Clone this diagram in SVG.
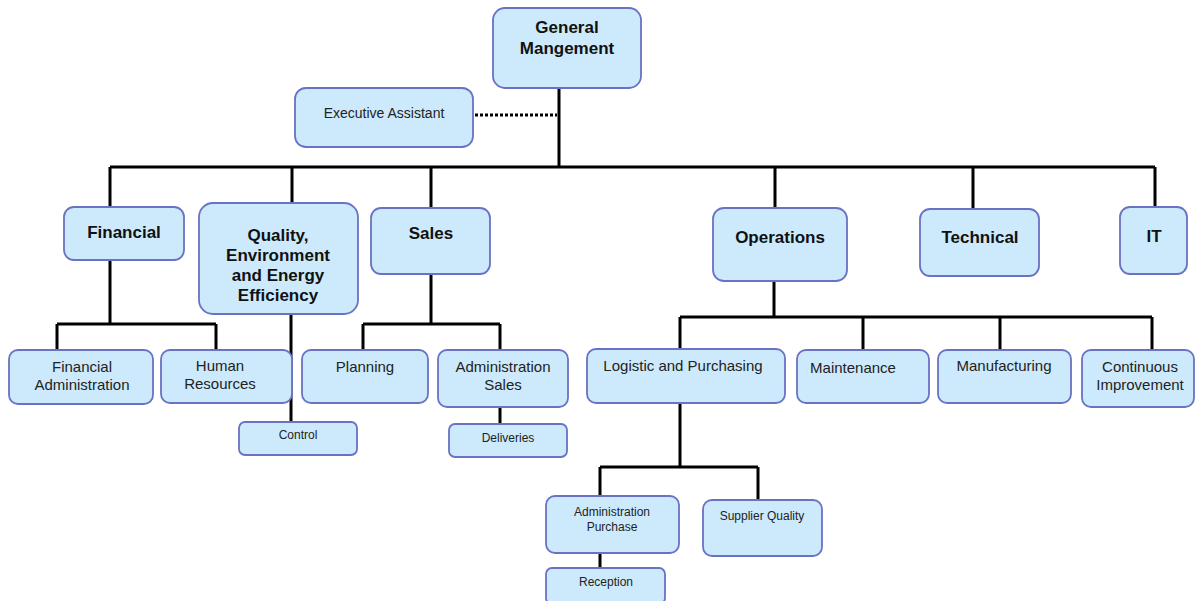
<svg xmlns="http://www.w3.org/2000/svg" width="1198" height="601" viewBox="0 0 1198 601">
<style>
.box{fill:#cdeafc;stroke:#6a72c4;stroke-width:1.8}
.b{font-family:"Liberation Sans",Arial,sans-serif;font-weight:bold;font-size:17px;fill:#111;text-anchor:middle}
.r{font-family:"Liberation Sans",Arial,sans-serif;font-size:15px;fill:#222;text-anchor:middle}
.s{font-family:"Liberation Sans",Arial,sans-serif;font-size:12px;fill:#222;text-anchor:middle}
.ln{fill:none;stroke:#000;stroke-width:3}
</style>
<rect width="1198" height="601" fill="#fff"/>
<g id="connectors">
<path class="ln" d="M559 88V167M110 167H1155M110 167V208M292 167V204M431 167V209M775 167V209M973 167V210M1155 167V208"/>
<path d="M475 115H557" fill="none" stroke="#000" stroke-width="3" stroke-dasharray="3 2"/>
<path class="ln" d="M110 260V324M57 324H216M57 324V351M216 324V351"/>
<path class="ln" d="M291 314V423"/>
<path class="ln" d="M431 274V324M363 324H500M363 324V351M500 324V351M500 407V425"/>
<path class="ln" d="M774 281V317M680 317H1152M680 317V350M863 317V351M1000 317V351M1152 317V351"/>
<path class="ln" d="M680 403V467M600 467H758M600 467V497M758 467V501M600 553V569"/>
</g>
<g id="general-management"><rect class="box" x="493" y="8" width="148" height="80" rx="12"/><text class="b" x="567" y="33">General</text><text class="b" x="567" y="54">Mangement</text></g>
<g id="executive-assistant"><rect class="box" x="295" y="88" width="178" height="59" rx="11"/><text class="s" style="font-size:14px" x="384" y="118">Executive Assistant</text></g>
<g id="financial"><rect class="box" x="64" y="207" width="120" height="53" rx="10"/><text class="b" x="124" y="238">Financial</text></g>
<g id="quality"><rect class="box" x="199" y="203" width="159" height="111" rx="14"/><text class="b" x="278" y="241">Quality,</text><text class="b" x="278" y="261">Environment</text><text class="b" x="278" y="281">and Energy</text><text class="b" x="278" y="301">Efficiency</text></g>
<g id="sales"><rect class="box" x="371" y="208" width="119" height="66" rx="10"/><text class="b" x="431" y="239">Sales</text></g>
<g id="operations"><rect class="box" x="713" y="208" width="134" height="73" rx="11"/><text class="b" x="780" y="243">Operations</text></g>
<g id="technical"><rect class="box" x="920" y="209" width="119" height="67" rx="10"/><text class="b" x="980" y="243">Technical</text></g>
<g id="it"><rect class="box" x="1120" y="207" width="67" height="67" rx="10"/><text class="b" x="1154" y="242">IT</text></g>
<g id="financial-administration"><rect class="box" x="9" y="350" width="144" height="54" rx="9"/><text class="r" x="82" y="372">Financial</text><text class="r" x="82" y="390">Administration</text></g>
<g id="human-resources"><rect class="box" x="161" y="350" width="131" height="53" rx="9"/><text class="r" x="220" y="371">Human</text><text class="r" x="220" y="389">Resources</text></g>
<g id="control"><rect class="box" x="239" y="422" width="118" height="33" rx="6"/><text class="s" x="298" y="439">Control</text></g>
<g id="planning"><rect class="box" x="302" y="350" width="126" height="53" rx="9"/><text class="r" x="365" y="372">Planning</text></g>
<g id="administration-sales"><rect class="box" x="438" y="350" width="130" height="57" rx="9"/><text class="r" x="503" y="372">Administration</text><text class="r" x="503" y="390">Sales</text></g>
<g id="deliveries"><rect class="box" x="449" y="424" width="118" height="33" rx="6"/><text class="s" x="508" y="442">Deliveries</text></g>
<g id="logistic-purchasing"><rect class="box" x="587" y="349" width="198" height="54" rx="9"/><text class="r" x="683" y="371">Logistic and Purchasing</text></g>
<g id="maintenance"><rect class="box" x="797" y="350" width="132" height="53" rx="9"/><text class="r" x="853" y="373">Maintenance</text></g>
<g id="manufacturing"><rect class="box" x="938" y="350" width="133" height="53" rx="9"/><text class="r" x="1004" y="371">Manufacturing</text></g>
<g id="continuous-improvement"><rect class="box" x="1082" y="350" width="112" height="57" rx="9"/><text class="r" x="1140" y="372">Continuous</text><text class="r" x="1140" y="390">Improvement</text></g>
<g id="administration-purchase"><rect class="box" x="546" y="496" width="133" height="57" rx="9"/><text class="s" x="612" y="516">Administration</text><text class="s" x="612" y="531">Purchase</text></g>
<g id="supplier-quality"><rect class="box" x="703" y="500" width="119" height="56" rx="9"/><text class="s" x="762" y="520">Supplier Quality</text></g>
<g id="reception"><rect class="box" x="546" y="568" width="119" height="36" rx="6"/><text class="s" x="606" y="586">Reception</text></g>
</svg>
